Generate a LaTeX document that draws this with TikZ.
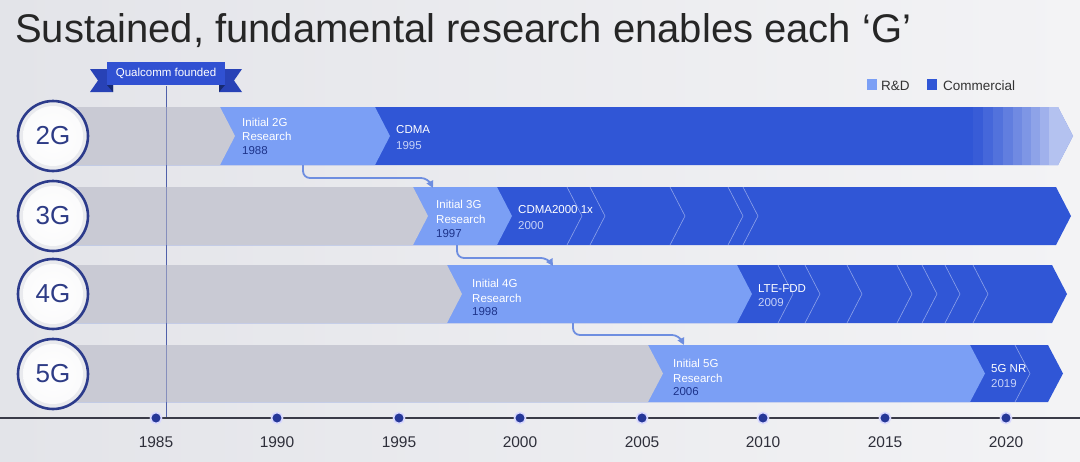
\documentclass[tikz,border=0pt]{standalone}
\usepackage{fontspec}
\setmainfont{Liberation Sans}
\usetikzlibrary{arrows.meta,calc}
\definecolor{bgL}{HTML}{E3E4E9}
\definecolor{bgR}{HTML}{F3F3F5}
\definecolor{barg}{HTML}{C9CAD4}
\definecolor{rdblue}{HTML}{7B9FF5}
\definecolor{comblue}{HTML}{3056D6}
\definecolor{navy}{HTML}{2C3B8B}
\definecolor{navytext}{HTML}{2E3C86}
\definecolor{yearnavy}{HTML}{1D338A}
\definecolor{yearlight}{HTML}{C6D1F7}
\definecolor{connblue}{HTML}{6E8EE0}
\definecolor{ribbon}{HTML}{3151D2}
\definecolor{ribtail}{HTML}{2842B6}
\definecolor{ribfold}{HTML}{172A70}
\definecolor{axisc}{HTML}{3A3B48}
\definecolor{vline}{HTML}{5060AA}
\definecolor{dotc}{HTML}{253798}
\newcommand\chevbar[5]{\fill[#1] (#2,#4) -- (#3,#4) -- ({#3+15},{(#4+#5)/2}) -- (#3,#5) -- (#2,#5) -- cycle;}
\newcommand\chevln[3]{\draw[chevline] (#1,#2) -- ({#1+15},{(#2+#3)/2}) -- (#1,#3);}
\tikzset{
  chevline/.style={draw=white, opacity=0.45, line width=0.6pt},
  gcircle/.style={circle, draw=navy, line width=2.6pt, fill=barg!40!white, minimum size=70pt, inner sep=0pt,
    font=\fontsize{26}{26}\selectfont, text=navytext,
    path picture={\shade[inner color=white, outer color=white!90!barg] (path picture bounding box.center) circle (30pt);}},
  bartext/.style={anchor=base west, inner sep=0pt, font=\fontsize{11.5}{12}\selectfont, text=white},
  rdyear/.style={bartext, text=yearnavy},
  comyear/.style={bartext, text=yearlight},
  conn/.style={draw=connblue, line width=1.8pt, rounded corners=7pt, -{Triangle[length=7pt,width=7pt]}},
  yearlab/.style={anchor=base, inner sep=0pt, font=\fontsize{15.5}{16}\selectfont, text=axisc!80!black},
  tdot/.style={circle, fill=dotc, draw=white!85!blue, line width=1.6pt, minimum size=11pt, inner sep=0pt},
  legtext/.style={anchor=base west, inner sep=0pt, font=\fontsize{13.5}{14}\selectfont, text=black!80},
}
\begin{document}
\begin{tikzpicture}[x=1pt,y=-1pt]
\useasboundingbox (0,0) rectangle (1080,461);
\shade[left color=bgL, right color=bgR] (0,0) rectangle (1080,461);

% title
\node[anchor=base west, inner sep=0pt, font=\fontsize{40}{40}\selectfont, text=black!85] (title) at (15,42) {Sustained, fundamental research enables each ‘G’};

% legend
\fill[rdblue] (867,79) rectangle (877,90);
\node[legtext] (legrd) at (881,90) {R\&D};
\fill[comblue] (927,79) rectangle (937,90);
\node[legtext] (legcom) at (943,90) {Commercial};

% Qualcomm founded line
\coordinate (qtop) at (166,86);
\coordinate (qbot) at (166,418);
\draw[vline, line width=1pt] (qtop) -- (qbot);

% ---------- 2G row
\chevbar{comblue}{70}{1058}{107}{165}
\begin{scope}
  \clip (70,107) -- (1058,107) -- (1073,136) -- (1058,165) -- (70,165) -- cycle;
  \foreach \xa/\xb/\o in {973/983/0.04, 983/993/0.1, 993/1003/0.17, 1003/1013/0.24, 1013/1022/0.31, 1022/1031/0.38, 1031/1040/0.46, 1040/1049/0.54, 1049/1080/0.64}
    \fill[white, opacity=\o] (\xa,100) rectangle (\xb,170);
\end{scope}
\chevbar{rdblue}{70}{375}{107}{165}
\chevbar{barg}{70}{220}{107}{165}

% ---------- 3G row
\chevbar{comblue}{70}{1056}{187}{245}
\foreach \x in {567,590,670,728,743} {\chevln{\x}{187}{245}}
\chevbar{rdblue}{70}{497}{187}{245}
\chevbar{barg}{70}{413}{187}{245}

% ---------- 4G row
\chevbar{comblue}{70}{1052}{265}{323}
\foreach \x in {778,805,847,897,922,945,973} {\chevln{\x}{265}{323}}
\chevbar{rdblue}{70}{737}{265}{323}
\chevbar{barg}{70}{447}{265}{323}

% ---------- 5G row
\chevbar{comblue}{70}{1048}{345}{402}
\chevln{1015}{345}{402}
\chevbar{rdblue}{70}{970}{345}{402}
\chevbar{barg}{70}{648}{345}{402}

% faint line across the gray bars
\draw[vline, line width=1pt, opacity=0.55] (qtop) -- (qbot);

% circles
\node[gcircle] (c2) at (53,136) {2G};
\node[gcircle] (c3) at (53,216) {3G};
\node[gcircle] (c4) at (53,294) {4G};
\node[gcircle] (c5) at (53,374) {5G};

% bar texts
\node[bartext] (t2a) at (242,126) {Initial 2G};
\node[bartext] (t2b) at (242,140.5) {Research};
\node[rdyear]  (t2c) at (242,154) {1988};
\node[bartext] (t2d) at (396,133) {CDMA};
\node[comyear] (t2e) at (396,149) {1995};

\node[bartext] (t3a) at (436,208) {Initial 3G};
\node[bartext] (t3b) at (436,223) {Research};
\node[rdyear]  (t3c) at (436,237) {1997};
\node[bartext] (t3d) at (518,213) {CDMA2000 1x};
\node[comyear] (t3e) at (518,229) {2000};

\node[bartext] (t4a) at (472,287) {Initial 4G};
\node[bartext] (t4b) at (472,302) {Research};
\node[rdyear]  (t4c) at (472,315) {1998};
\node[bartext] (t4d) at (758,292) {LTE-FDD};
\node[comyear] (t4e) at (758,306) {2009};

\node[bartext] (t5a) at (673,367) {Initial 5G};
\node[bartext] (t5b) at (673,382) {Research};
\node[rdyear]  (t5c) at (673,395) {2006};
\node[bartext] (t5d) at (991,372) {5G NR};
\node[comyear] (t5e) at (991,387) {2019};

% connectors
\coordinate (a2s) at (303,165);
\coordinate (a2e) at (433,188);
\coordinate (a3s) at (457,245);
\coordinate (a3e) at (553,266);
\coordinate (a4s) at (573,323);
\coordinate (a4e) at (684,345);
\draw[conn] (a2s) -- ++(0,13) -- ($(a2e)+(-5,-10)$) -- (a2e);
\draw[conn] (a3s) -- ++(0,13) -- ($(a3e)+(-5,-8)$) -- (a3e);
\draw[conn] (a4s) -- ++(0,12) -- ($(a4e)+(-5,-10)$) -- (a4e);

% ribbon
\fill[ribtail] (90,69) -- (113,69) -- (113,92) -- (90,92) -- (98,80.5) -- cycle;
\fill[ribtail] (219,69) -- (242,69) -- (234,80.5) -- (242,92) -- (219,92) -- cycle;
\fill[ribfold] (107,85) -- (113,85) -- (113,92) -- cycle;
\fill[ribfold] (225,85) -- (219,85) -- (219,92) -- cycle;
\fill[ribbon] (107,62) rectangle (225,85);
\node[inner sep=0pt, text=white, font=\fontsize{11.5}{11.5}\selectfont] (qf) at (166,73.5) {Qualcomm founded};

% axis
\coordinate (axl) at (0,418);
\coordinate (axr) at (1080,418);
\draw[axisc, line width=1.1pt] (axl) -- (axr);
\foreach \yr/\x in {1985/156,1990/277,1995/399,2000/520,2005/642,2010/763,2015/885,2020/1006} {
  \node[tdot] (d\yr) at (\x,418) {};
  \node[yearlab] (y\yr) at (\x,447) {\yr};
}
\end{tikzpicture}
\end{document}
